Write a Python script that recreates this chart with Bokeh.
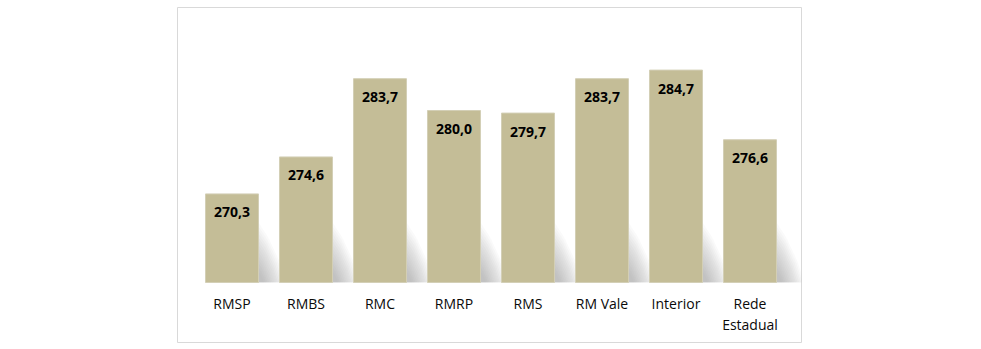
import numpy as np
from bokeh.plotting import figure
from bokeh.models import Range1d, ColumnDataSource
from bokeh.core.properties import value
from bokeh.embed import file_html
from bokeh.resources import INLINE

# ---- data ----
categories = ["RMSP", "RMBS", "RMC", "RMRP", "RMS", "RM Vale", "Interior", "Rede\nEstadual"]
scores = [270.3, 274.6, 283.7, 280.0, 279.7, 283.7, 284.7, 276.6]
score_labels = ["270,3", "274,6", "283,7", "280,0", "279,7", "283,7", "284,7", "276,6"]
Y_BASE = 260.0

# ---- layout ----
W, H = 981, 349
ML, MR, MT, MB = 177, 180, 7, 7
x0, x1 = -0.7365, 7.696
y0, y1 = 253.02, 291.98
fw, fh = W - ML - MR, H - MT - MB
pxu_x = fw / (x1 - x0)
pxu_y = fh / (y1 - y0)

BAR_COLOR = "#C4BD97"
BAR_W = 53 / pxu_x

p = figure(width=W, height=H, output_backend="svg", toolbar_location=None,
           x_range=Range1d(x0, x1), y_range=Range1d(y0, y1),
           min_border_left=ML, min_border_right=MR, min_border_top=MT, min_border_bottom=MB)
p.xaxis.visible = False
p.yaxis.visible = False
p.grid.visible = False
p.outline_line_color = "#D9D9D9"
p.outline_line_width = 1
p.background_fill_color = "white"
p.border_fill_color = "white"

xs = np.arange(len(categories))

# ---- shadows (layered translucent soft polygons) ----
N = 14
for k in range(N):
    frac = (k + 1) / N
    h_px = 8 + 52 * frac
    w_px = 4 + 24 * frac
    sx, sy = [], []
    for i in xs:
        L = i - BAR_W / 2
        R = i + BAR_W / 2
        py = [0, 0, h_px * 0.35, h_px * 0.75, h_px, h_px]
        sx.append([L + 0.05, R + w_px / pxu_x, R + 0.75 * w_px / pxu_x,
                   R + 0.35 * w_px / pxu_x, R, L + 0.05])
        sy.append([Y_BASE + v / pxu_y for v in py])
    p.patches(sx, sy, fill_color="#70707A", fill_alpha=0.036, line_color=None)

# ---- bars ----
src = ColumnDataSource(dict(x=xs, top=scores, lab=score_labels, cat=categories))
p.vbar(x="x", top="top", bottom=Y_BASE, width=BAR_W, source=src,
       fill_color=BAR_COLOR, line_color="#D3CFB6", line_width=1)

# ---- value labels ----
p.text(x="x", y="top", text="lab", source=src, text_align="center", text_baseline="middle",
       y_offset=18.5, text_font=value("Open Sans"), text_font_size="14px",
       text_font_style="bold", text_color="#000000")

# ---- category labels ----
p.text(x="x", y=Y_BASE, text="cat", source=src, text_align="center", text_baseline="top",
       y_offset=12, text_font=value("Open Sans"), text_font_size="14px",
       text_color="#0A0A0A", text_line_height=1.09)

open("out.html", "w").write(file_html(p, INLINE))
